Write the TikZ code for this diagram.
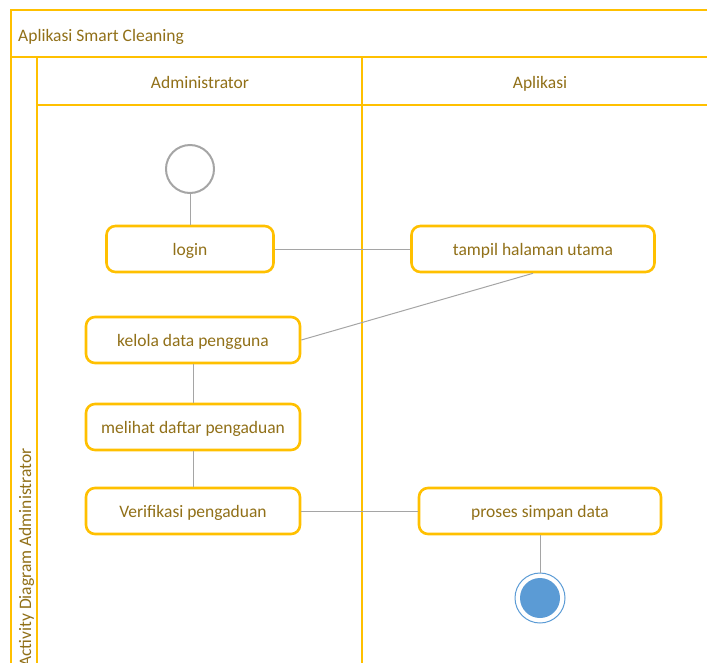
\documentclass[tikz,border=0pt]{standalone}
\usepackage{fontspec}
\setmainfont{Carlito}
\definecolor{frameY}{RGB}{255,192,0}
\definecolor{txt}{RGB}{145,112,24}
\definecolor{lineG}{RGB}{165,165,165}
\definecolor{endB}{RGB}{91,155,213}
\tikzset{
  frame/.style={draw=frameY, line width=2.6pt},
  act/.style={draw=frameY, line width=2.6pt, rounded corners=9pt, fill=white, text=txt, font=\fontsize{17.5}{21}\selectfont, minimum height=46pt, inner sep=0pt, text height=14pt, text depth=2pt},
  conn/.style={draw=lineG, line width=1pt},
  lbl/.style={text=txt, font=\fontsize{17.5}{21}\selectfont, inner sep=0pt, text height=14pt, text depth=2pt}
}
\begin{document}
\begin{tikzpicture}[x=1pt,y=-1pt]
\useasboundingbox (0,0) rectangle (707,662);
\clip (0,0) rectangle (707,662);
% frame
\draw[frame] (11,680) -- (11,10) -- (720,10);
\draw[frame] (11,57) -- (720,57);
\draw[frame] (37,57) -- (37,680);
\draw[frame] (37,105) -- (720,105);
\draw[frame] (362,57) -- (362,680);
\node[lbl, anchor=west] (title) at (18,35) {Aplikasi Smart Cleaning};
\node[lbl] (h1) at (200,82) {Administrator};
\node[lbl] (h2) at (540,82) {Aplikasi};
\node[lbl, rotate=90, anchor=west] (side) at (25,667) {Activity Diagram Administrator};
% nodes
\node[circle, draw=lineG, line width=2pt, minimum size=48pt, inner sep=0pt] (start) at (190,169) {};
\node[act, minimum width=167pt] (login) at (190,249) {login};
\node[act, minimum width=243pt] (tampil) at (533,249) {tampil halaman utama};
\node[act, minimum width=214pt] (kelola) at (193,340) {kelola data pengguna};
\node[act, minimum width=214pt] (melihat) at (193,427) {melihat daftar pengaduan};
\node[act, minimum width=214pt] (verif) at (193,511) {Verifikasi pengaduan};
\node[act, minimum width=242pt] (proses) at (540,511) {proses simpan data};
\node[circle, draw=endB, line width=1pt, minimum size=50pt, inner sep=0pt] (endc) at (540,598) {};
\node[circle, fill=endB, minimum size=40pt, inner sep=0pt] (endin) at (540,598) {};
% connectors
\draw[conn] (start) -- (login);
\draw[conn] (login) -- (tampil);
\draw[conn] (tampil.south) -- (kelola.east);
\draw[conn] (kelola) -- (melihat);
\draw[conn] (melihat) -- (verif);
\draw[conn] (verif) -- (proses);
\draw[conn] (proses) -- (endc);
\end{tikzpicture}
\end{document}
